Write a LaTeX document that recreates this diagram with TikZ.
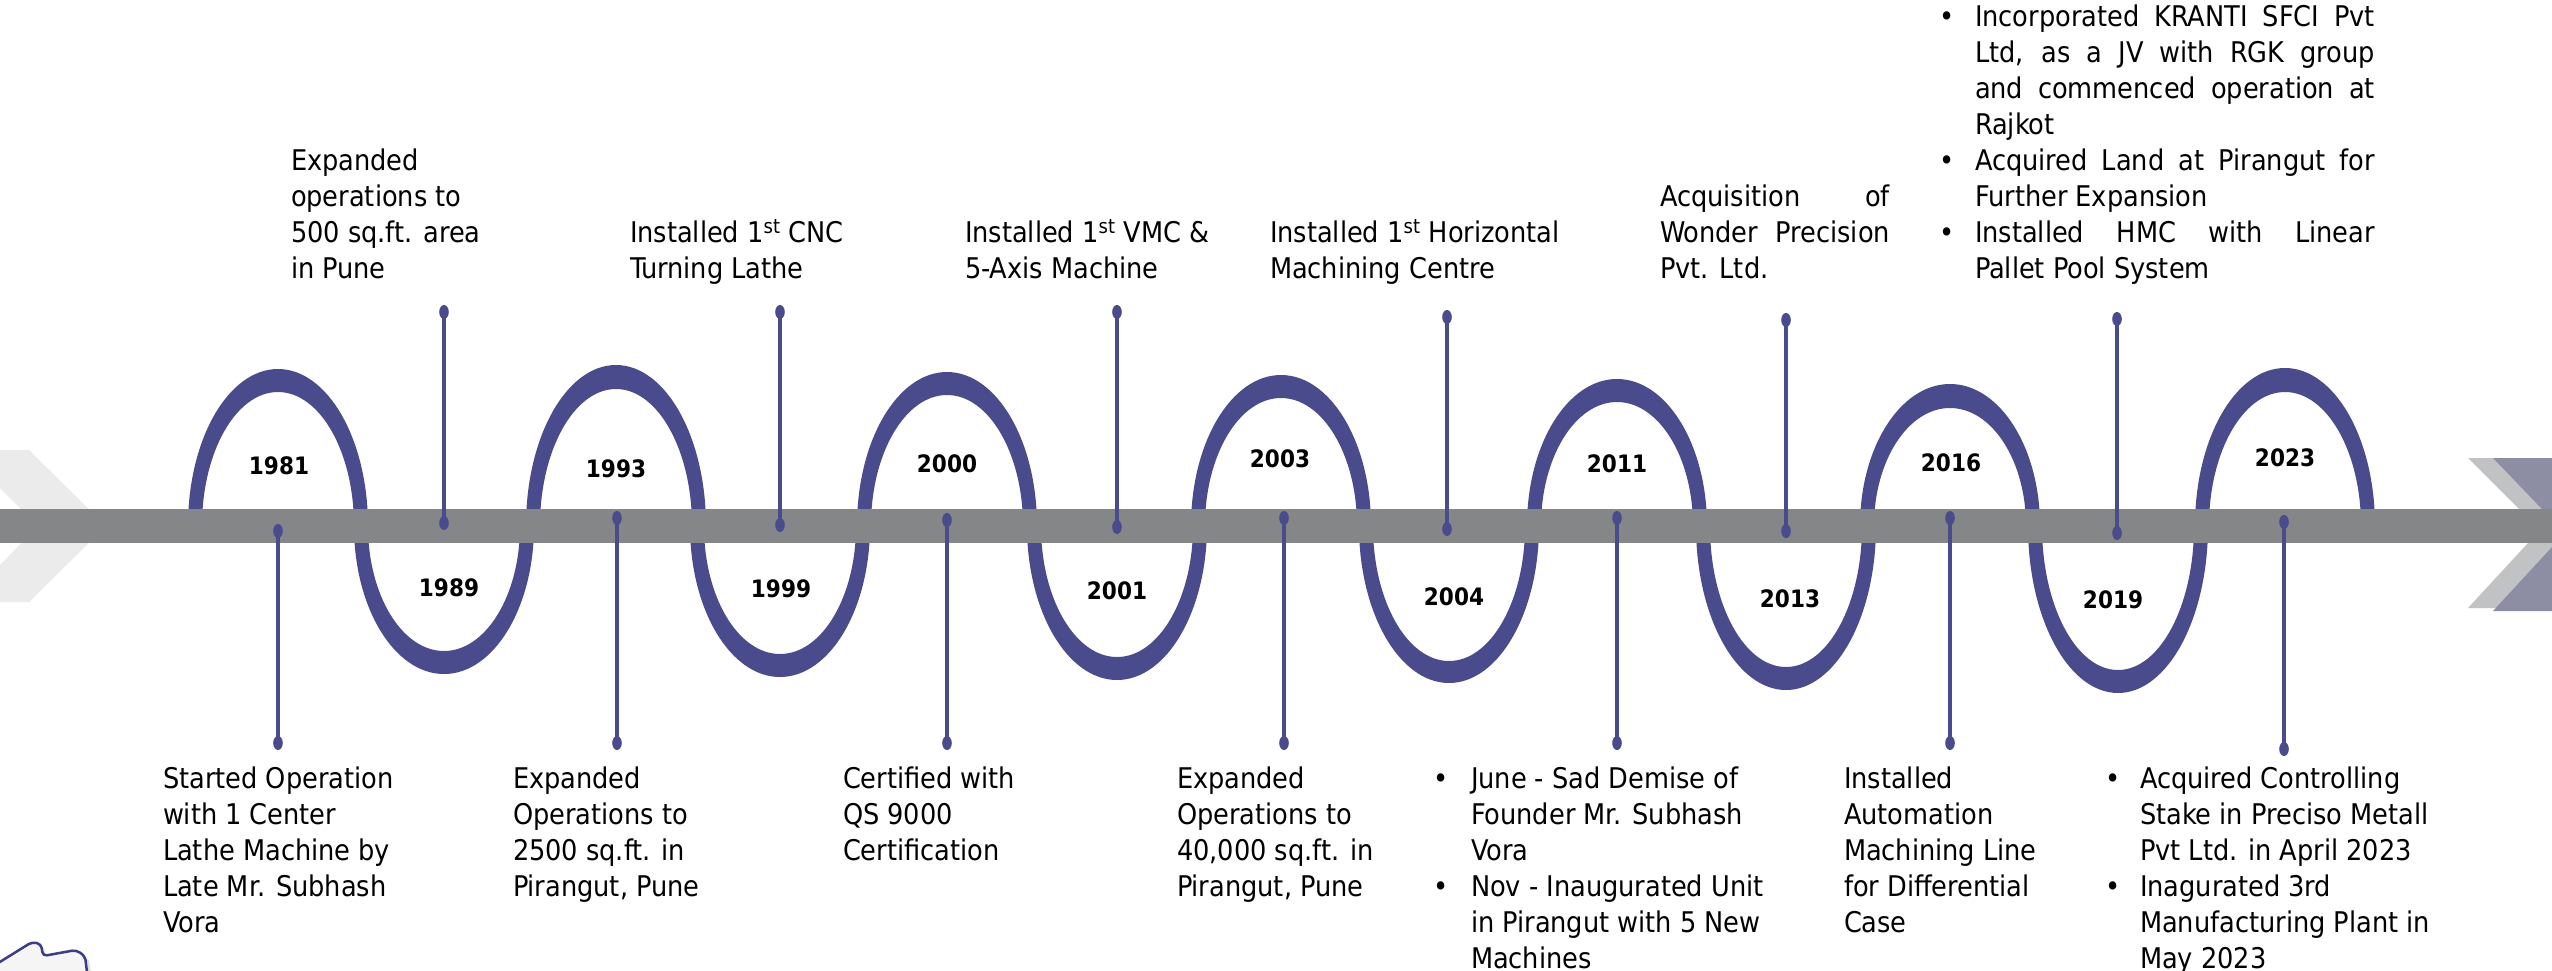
\documentclass[tikz,border=0pt]{standalone}
\usepackage{fontspec}
\setmainfont{DejaVu Sans Condensed}
\definecolor{loopc}{HTML}{4A4B8C}
\definecolor{barc}{HTML}{858688}
\definecolor{chevl}{HTML}{EBEBEB}
\definecolor{chevg}{HTML}{C1C2C4}
\definecolor{chevp}{HTML}{8D8DA3}
\definecolor{decoc}{HTML}{3B3D85}
\newcommand\jst[2]{\makebox[#1][s]{#2}}
\newcommand\bul[1]{\makebox[#1][l]{•}}
\tikzset{
  loopring/.style={fill=loopc, even odd rule},
  stemline/.style={draw=loopc, line width=4.5pt},
  stemdot/.style={fill=loopc},
  yearlbl/.style={font=\fontsize{24pt}{28pt}\selectfont\bfseries, inner sep=0pt, outer sep=0pt},
  desc/.style={font=\fontsize{28.5pt}{36pt}\selectfont, inner sep=0pt, outer sep=0pt, align=left},
  topdesc/.style={desc, anchor=south west},
  botdesc/.style={desc, anchor=north west},
}
\begin{document}
\begin{tikzpicture}[x=1pt, y=-1pt]
\useasboundingbox (0,0) rectangle (2552,970);
\fill[white] (0,0) rectangle (2552,970);

% chevrons
\fill[chevl] (0,450) -- (29,450) -- (106,526) -- (29,602) -- (0,602) -- (0,565) -- (38,526) -- (0,488) -- cycle;
\fill[chevg] (2468,458) -- (2570,458) -- (2570,608) -- (2468,608) -- (2540,530) -- cycle;
\fill[chevp] (2493,458) -- (2570,458) -- (2570,611) -- (2493,611) -- (2565,533) -- cycle;

% upper loops
\foreach \cx/\yo/\yi in {278/369/392, 616/365/389, 947/372/395, 1281/375/398, 1617/379/402, 1950/384/408, 2285/368/392}{
  \pgfmathsetmacro\bo{526-\yo}
  \pgfmathsetmacro\bi{526-\yi}
  \begin{scope}
    \clip (\cx-100,300) rectangle (\cx+100,526);
    \fill[loopring] (\cx,526) ellipse [x radius=90, y radius=\bo] (\cx,526) ellipse [x radius=76, y radius=\bi];
  \end{scope}
}
% lower loops
\foreach \cx/\yo/\yi in {444/674/651, 780/677/654, 1117/680/657, 1449/683/661, 1786/690/667, 2118/693/670}{
  \pgfmathsetmacro\bo{\yo-526}
  \pgfmathsetmacro\bi{\yi-526}
  \begin{scope}
    \clip (\cx-100,526) rectangle (\cx+100,720);
    \fill[loopring] (\cx,526) ellipse [x radius=90, y radius=\bo] (\cx,526) ellipse [x radius=76, y radius=\bi];
  \end{scope}
}

% bar
\fill[barc] (0,509) rectangle (2552,543);

% stems going up (for lower loops)
\foreach \sx/\ya/\yb [count=\k] in {444/312/523, 780/312/525, 1117/312/527, 1447/317/529, 1786/320/531, 2117/319/533}{
  \coordinate (ua\k) at (\sx,\ya);
  \coordinate (ub\k) at (\sx,\yb);
  \draw[stemline] (ua\k) -- (ub\k);
  \fill[stemdot] (ua\k) ellipse [x radius=4.8, y radius=7];
  \fill[stemdot] (ub\k) ellipse [x radius=4.8, y radius=7];
}
% stems going down (for upper loops)
\foreach \sx/\ya/\yb [count=\k] in {278/531/743, 617/518/743, 947/520/743, 1284/518/743, 1617/518/743, 1950/518/743, 2284/522/749}{
  \coordinate (da\k) at (\sx,\ya);
  \coordinate (db\k) at (\sx,\yb);
  \draw[stemline] (da\k) -- (db\k);
  \fill[stemdot] (da\k) ellipse [x radius=4.8, y radius=7];
  \fill[stemdot] (db\k) ellipse [x radius=4.8, y radius=7];
}

% year labels
\node[yearlbl] (y1981) at (279,466) {1981};
\node[yearlbl] (y1989) at (449,588) {1989};
\node[yearlbl] (y1993) at (616,469) {1993};
\node[yearlbl] (y1999) at (781,589) {1999};
\node[yearlbl] (y2000) at (947,464) {2000};
\node[yearlbl] (y2001) at (1117,591) {2001};
\node[yearlbl] (y2003) at (1280,459) {2003};
\node[yearlbl] (y2004) at (1454,597) {2004};
\node[yearlbl] (y2011) at (1617,464) {2011};
\node[yearlbl] (y2013) at (1790,599) {2013};
\node[yearlbl] (y2016) at (1951,463) {2016};
\node[yearlbl] (y2019) at (2113,600) {2019};
\node[yearlbl] (y2023) at (2285,458) {2023};

% top descriptions
\node[topdesc] (t1989) at (291,289) {Expanded\\operations to\\500 sq.ft. area\\in Pune\strut};
\node[topdesc] (t1999) at (630,289) {Installed 1\textsuperscript{st} CNC\\Turning Lathe\strut};
\node[topdesc] (t2001) at (965,289) {Installed 1\textsuperscript{st} VMC \&\\5-Axis Machine\strut};
\node[topdesc] (t2004) at (1270,289) {Installed 1\textsuperscript{st} Horizontal\\Machining Centre\strut};
\node[topdesc] (t2013) at (1660,289) {\jst{230pt}{Acquisition\hfill of}\\\jst{230pt}{Wonder Precision}\\Pvt. Ltd.\strut};
\node[topdesc] (t2019) at (1939,289) {\bul{36pt}\jst{400pt}{Incorporated KRANTI SFCI Pvt}\\
\hspace*{36pt}\jst{400pt}{Ltd, as a JV with RGK group}\\
\hspace*{36pt}\jst{400pt}{and commenced operation at}\\
\hspace*{36pt}Rajkot\\
\bul{36pt}\jst{400pt}{Acquired Land at Pirangut for}\\
\hspace*{36pt}Further Expansion\\
\bul{36pt}\jst{400pt}{Installed HMC with Linear}\\
\hspace*{36pt}Pallet Pool System\strut};

% bottom descriptions
\node[botdesc] (b1981) at (163,763) {\strut Started Operation\\with 1 Center\\Lathe Machine by\\Late Mr. Subhash\\Vora};
\node[botdesc] (b1993) at (513,763) {\strut Expanded\\Operations to\\2500 sq.ft. in\\Pirangut, Pune};
\node[botdesc] (b2000) at (843,763) {\strut Certified with\\QS 9000\\Certification};
\node[botdesc] (b2003) at (1177,763) {\strut Expanded\\Operations to\\40,000 sq.ft. in\\Pirangut, Pune};
\node[botdesc] (b2011) at (1433,763) {\strut\bul{38pt}June - Sad Demise of\\
\hspace*{38pt}Founder Mr. Subhash\\
\hspace*{38pt}Vora\\
\bul{38pt}Nov - Inaugurated Unit\\
\hspace*{38pt}in Pirangut with 5 New\\
\hspace*{38pt}Machines};
\node[botdesc] (b2016) at (1844,763) {\strut Installed\\Automation\\Machining Line\\for Differential\\Case};
\node[botdesc] (b2023) at (2105,763) {\strut\bul{35pt}Acquired Controlling\\
\hspace*{35pt}Stake in Preciso Metall\\
\hspace*{35pt}Pvt Ltd. in April 2023\\
\bul{35pt}Inagurated 3rd\\
\hspace*{35pt}Manufacturing Plant in\\
\hspace*{35pt}May 2023};

% corner decoration
\fill[gray!25] (-5,970) -- (35,946) -- (44,948) -- (46,959) -- (79,954) -- (89,960) -- (92,980) -- (-5,980) -- cycle;
\filldraw[fill=gray!8, draw=decoc, line width=2.5pt, rounded corners=4pt] (-5,965) -- (32,942) -- (41,944) -- (43,956) -- (76,950) -- (85,956) -- (88,980) -- (-5,980) -- cycle;
\end{tikzpicture}
\end{document}
